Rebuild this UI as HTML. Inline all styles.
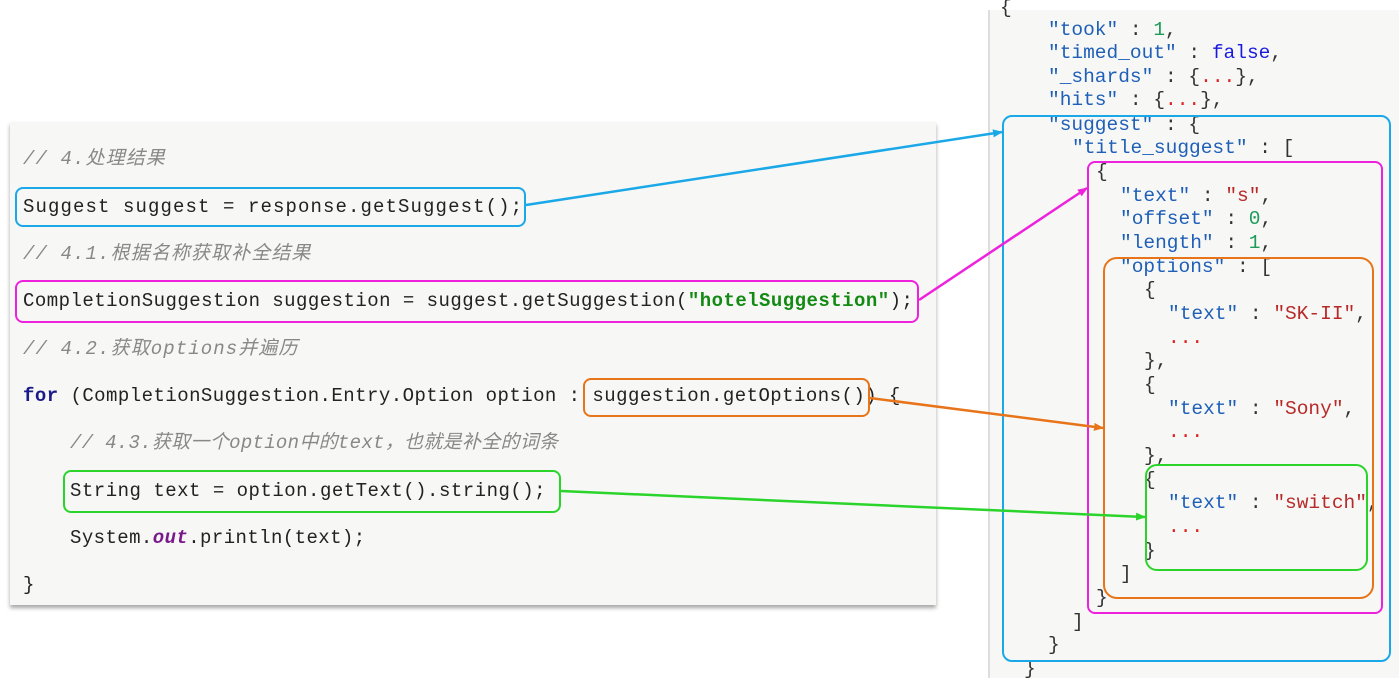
<!DOCTYPE html>
<html><head><meta charset="utf-8"><style>
body{margin:0;width:1399px;height:678px;background:#fff;position:relative;overflow:hidden;font-family:"Liberation Mono","Noto Sans CJK SC",monospace}
.l{position:absolute;white-space:pre;font-size:19px;letter-spacing:1.1px;line-height:24px;color:#222}
.c{color:#888;font-style:italic}
.j{position:absolute;white-space:pre;font-size:19.5px;letter-spacing:0px;line-height:24px;color:#333}
.k{color:#1f5fb8}.s{color:#b82a2a}.n{color:#1e9b5b}.b{color:#1a1adf}.d{color:#d22}
.box{position:absolute;border:2.5px solid;border-radius:8px;box-sizing:border-box}
</style></head><body>
<div style="position:absolute;left:10px;top:122px;width:926px;height:483px;background:#f7f8f5;box-shadow:0 3px 4px rgba(0,0,0,.35)"></div>
<div style="position:absolute;left:988px;top:10px;width:411px;height:668px;background:#f7f8f5;border-left:2px solid #ddd"></div>

<div class="l c" style="left:23px;top:147px">// 4.处理结果</div>
<div class="l" style="left:23px;top:195px">Suggest suggest = response.getSuggest();</div>
<div class="l c" style="left:23px;top:242px">// 4.1.根据名称获取补全结果</div>
<div class="l" style="left:23px;top:289px;letter-spacing:0.47px">CompletionSuggestion suggestion = suggest.getSuggestion(<b style="color:#138a13">"hotelSuggestion"</b>);</div>
<div class="l c" style="left:23px;top:337px">// 4.2.获取options并遍历</div>
<div class="l" style="left:23px;top:384px;letter-spacing:0.46px"><b style="color:#1a1a8a">for</b> (CompletionSuggestion.Entry.Option option : suggestion.getOptions()) {</div>
<div class="l c" style="left:70px;top:431px;letter-spacing:0.3px">// 4.3.获取一个option中的text，也就是补全的词条</div>
<div class="l" style="left:70px;top:479px;letter-spacing:0.5px">String text = option.getText().string();</div>
<div class="l" style="left:70px;top:526px;letter-spacing:0.42px">System.<b style="color:#7a1a8a;font-style:italic">out</b>.println(text);</div>
<div class="l" style="left:23px;top:573px">}</div>

<div class="j" style="left:1000px;top:-4px">{</div>
<div class="j" style="left:1048px;top:18px"><span class="k">"took"</span> : <span class="n">1</span>,</div>
<div class="j" style="left:1048px;top:41px"><span class="k">"timed_out"</span> : <span class="b">false</span>,</div>
<div class="j" style="left:1048px;top:65px"><span class="k">"_shards"</span> : {<span class="d">...</span>},</div>
<div class="j" style="left:1048px;top:88px"><span class="k">"hits"</span> : {<span class="d">...</span>},</div>
<div class="j" style="left:1048px;top:113px"><span class="k">"suggest"</span> : {</div>
<div class="j" style="left:1072px;top:136px"><span class="k">"title_suggest"</span> : [</div>
<div class="j" style="left:1096px;top:160px">{</div>
<div class="j" style="left:1120px;top:184px"><span class="k">"text"</span> : <span class="s">"s"</span>,</div>
<div class="j" style="left:1120px;top:207px"><span class="k">"offset"</span> : <span class="n">0</span>,</div>
<div class="j" style="left:1120px;top:231px"><span class="k">"length"</span> : <span class="n">1</span>,</div>
<div class="j" style="left:1120px;top:255px"><span class="k">"options"</span> : [</div>
<div class="j" style="left:1144px;top:278px">{</div>
<div class="j" style="left:1168px;top:302px"><span class="k">"text"</span> : <span class="s">"SK-II"</span>,</div>
<div class="j d" style="left:1168px;top:326px">...</div>
<div class="j" style="left:1144px;top:349px">},</div>
<div class="j" style="left:1144px;top:373px">{</div>
<div class="j" style="left:1168px;top:397px"><span class="k">"text"</span> : <span class="s">"Sony"</span>,</div>
<div class="j d" style="left:1168px;top:420px">...</div>
<div class="j" style="left:1144px;top:444px">},</div>
<div class="j" style="left:1144px;top:468px">{</div>
<div class="j" style="left:1168px;top:491px"><span class="k">"text"</span> : <span class="s">"switch"</span>,</div>
<div class="j d" style="left:1168px;top:515px">...</div>
<div class="j" style="left:1144px;top:539px">}</div>
<div class="j" style="left:1120px;top:562px">]</div>
<div class="j" style="left:1096px;top:586px">}</div>
<div class="j" style="left:1072px;top:610px">]</div>
<div class="j" style="left:1048px;top:633px">}</div>
<div class="j" style="left:1024px;top:657px">}</div>

<div class="box" style="left:15px;top:187px;width:511px;height:40px;border-color:#1aa8e8"></div>
<div class="box" style="left:15px;top:280px;width:904px;height:43px;border-color:#ee22dd"></div>
<div class="box" style="left:583px;top:378px;width:287px;height:39px;border-color:#e8741a"></div>
<div class="box" style="left:63px;top:470px;width:498px;height:43px;border-color:#2ad42a"></div>
<div class="box" style="left:1002px;top:115px;width:389px;height:547px;border-color:#1aa8e8;border-radius:10px"></div>
<div class="box" style="left:1087px;top:161px;width:296px;height:453px;border-color:#ee22dd"></div>
<div class="box" style="left:1103px;top:257px;width:271px;height:342px;border-color:#e8741a;border-radius:14px"></div>
<div class="box" style="left:1145px;top:464px;width:223px;height:107px;border-color:#2ad42a;border-radius:12px"></div>

<svg width="1399" height="678" style="position:absolute;left:0;top:0">
<defs>
<marker id="mb" markerWidth="10" markerHeight="8" refX="9" refY="4" orient="auto" markerUnits="userSpaceOnUse"><path d="M0,0L10,4L0,8z" fill="#1aa8e8"/></marker>
<marker id="mm" markerWidth="10" markerHeight="8" refX="9" refY="4" orient="auto" markerUnits="userSpaceOnUse"><path d="M0,0L10,4L0,8z" fill="#ee22dd"/></marker>
<marker id="mo" markerWidth="10" markerHeight="8" refX="9" refY="4" orient="auto" markerUnits="userSpaceOnUse"><path d="M0,0L10,4L0,8z" fill="#e8741a"/></marker>
<marker id="mg" markerWidth="10" markerHeight="8" refX="9" refY="4" orient="auto" markerUnits="userSpaceOnUse"><path d="M0,0L10,4L0,8z" fill="#2ad42a"/></marker>
</defs>
<g stroke-width="2.5" fill="none">
<line x1="526" y1="205" x2="1002" y2="132" stroke="#1aa8e8" marker-end="url(#mb)"/>
<line x1="919" y1="300" x2="1087" y2="188" stroke="#ee22dd" marker-end="url(#mm)"/>
<line x1="870" y1="398" x2="1103" y2="428" stroke="#e8741a" marker-end="url(#mo)"/>
<line x1="561" y1="491" x2="1145" y2="517" stroke="#2ad42a" marker-end="url(#mg)"/>
</g>
</svg>
</body></html>
